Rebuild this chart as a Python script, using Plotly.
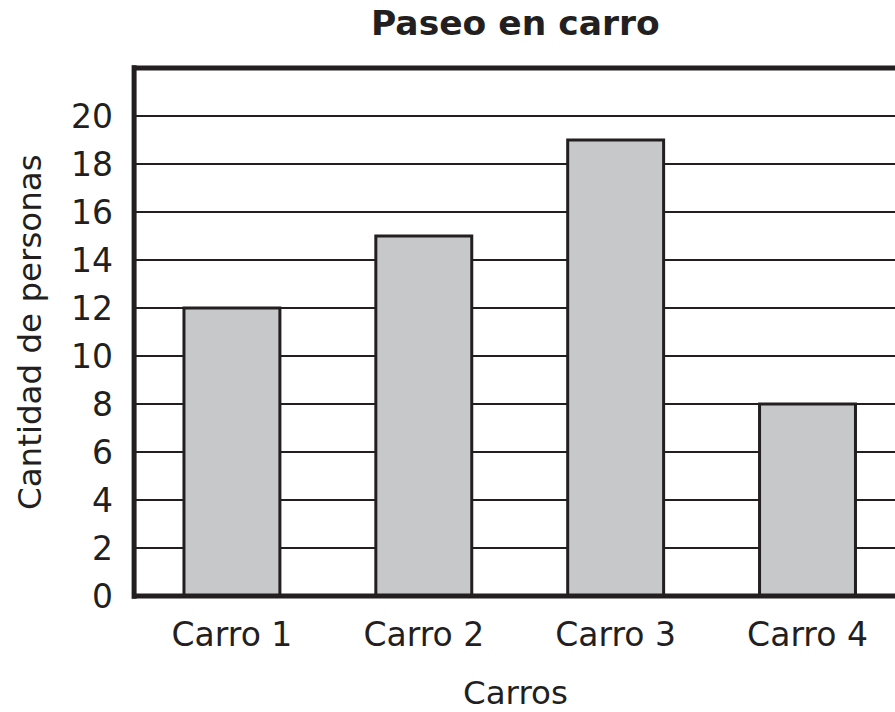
import plotly.graph_objects as go

categories = ["Carro 1", "Carro 2", "Carro 3", "Carro 4"]
values = [12, 15, 19, 8]
y_ticks = list(range(0, 21, 2))

title_text = "Paseo en carro"
x_title = "Carros"
y_title = "Cantidad de personas"

ink = "#231f20"
font_family = "DejaVu Sans, Verdana, sans-serif"
tick_size = 33
label_size = 32.5
title_size = 34.5

fig = go.Figure()
fig.add_trace(go.Bar(
    x=list(range(len(categories))),
    y=values,
    width=0.5,
    marker=dict(color="#c7c8ca", line=dict(color=ink, width=3)),
    hoverinfo="skip",
))

fig.update_layout(
    width=895, height=712,
    margin=dict(l=136, r=0, t=68, b=116),
    paper_bgcolor="white", plot_bgcolor="white",
    showlegend=False,
    font=dict(family=font_family, color=ink, size=tick_size),
    xaxis=dict(
        range=[-0.5, 3.456],
        tickmode="array",
        tickvals=list(range(len(categories))),
        ticktext=categories,
        showgrid=False, zeroline=False, showline=False,
        ticks="", ticklabelstandoff=16,
        tickfont=dict(size=tick_size, family=font_family, color=ink),
        fixedrange=True,
    ),
    yaxis=dict(
        range=[0, 22],
        tickmode="array",
        tickvals=y_ticks,
        ticktext=[str(v) for v in y_ticks],
        showgrid=True, gridcolor=ink, gridwidth=2,
        zeroline=False, showline=False,
        ticks="", ticklabelstandoff=22,
        tickfont=dict(size=tick_size, family=font_family, color=ink),
        fixedrange=True,
    ),
    shapes=[
        dict(type="line", xref="paper", yref="paper", x0=-0.0025, x1=-0.0025, y0=-0.005, y1=1.005,
             line=dict(color=ink, width=5), layer="above"),
        dict(type="line", xref="paper", yref="paper", x0=-0.005, x1=1, y0=1, y1=1,
             line=dict(color=ink, width=5), layer="above"),
        dict(type="line", xref="paper", yref="paper", x0=-0.005, x1=1, y0=0, y1=0,
             line=dict(color=ink, width=5), layer="above"),
    ],
    annotations=[
        dict(text="<b>" + title_text + "</b>", xref="paper", yref="paper", x=0.5, y=1,
             xanchor="center", yanchor="middle", yshift=45, showarrow=False,
             font=dict(size=title_size, family=font_family, color=ink)),
        dict(text=x_title, xref="paper", yref="paper", x=0.5, y=0,
             xanchor="center", yanchor="middle", yshift=-97, showarrow=False,
             font=dict(size=label_size, family=font_family, color=ink)),
        dict(text=y_title, xref="paper", yref="paper", x=0, y=0.5,
             xanchor="center", yanchor="middle", xshift=-106, textangle=-90, showarrow=False,
             font=dict(size=label_size, family=font_family, color=ink)),
    ],
)

fig.write_html("out.html")
